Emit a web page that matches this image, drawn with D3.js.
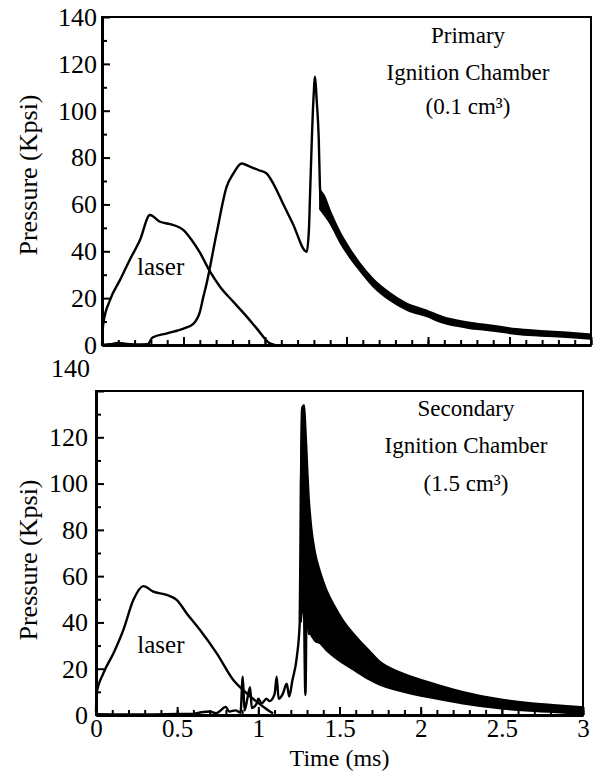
<!DOCTYPE html>
<html>
<head>
<meta charset="utf-8">
<script src="https://cdn.jsdelivr.net/npm/d3@7"></script>
<style>
body { margin: 0; background: #fff; }
text { font-family: "Liberation Serif", "Times New Roman", serif; fill: #000; }
</style>
</head>
<body>
<svg width="597" height="772"></svg>
<script>
// axis ticks
var yMajor = [0, 20, 40, 60, 80, 100, 120, 140]
var yMinor = [10, 30, 50, 70, 90, 110, 130]
var xMajor = [0, 0.5, 1, 1.5, 2, 2.5, 3]
var xMinor = d3.range(0, 31).map(function (i) { return i / 10 }) // every 0.1 ms

// primary chamber, [time ms, pressure kpsi]
var primaryLaser = [[0, 0], [0.008, 9.2], [0.049, 19.2], [0.11, 27.7], [0.17, 36.3], [0.233, 44.8],
  [0.294, 55.5], [0.356, 52.6], [0.417, 51.6], [0.5, 49], [0.55, 44.8], [0.6, 39.5], [0.663, 31.3],
  [0.724, 24.9], [0.805, 18.5], [0.888, 12.1], [0.949, 7.1], [1.03, 0.7], [1.06, 0]]
var primaryIgnition = [[0, 0], [0.05, 0.3], [0.1, 0.9], [0.15, 0.4], [0.2, 0.2], [0.28, 0.3], [0.31, 3.2],
  [0.4, 5], [0.5, 7], [0.56, 9], [0.6, 14], [0.62, 20], [0.642, 26.3], [0.703, 47.7], [0.765, 67.6],
  [0.806, 73.2], [0.857, 77.5], [0.908, 76.1], [0.959, 74.7], [1.01, 73.2], [1.05, 69], [1.11, 60.4],
  [1.17, 51.9], [1.256, 39.8], [1.27, 50], [1.276, 63.3], [1.297, 104.6], [1.307, 114.5], [1.317, 104.6],
  [1.33, 87.5], [1.337, 67.6], [1.342, 62]]
// noisy decay drawn as its envelope: [time, high, low]
var primaryBand = [[1.338, 66, 58], [1.36, 64, 56], [1.4, 57, 52], [1.46, 48, 44], [1.52, 41, 37.5],
  [1.58, 35, 32], [1.665, 28, 25], [1.77, 22, 19], [1.87, 17.7, 15], [1.99, 14.8, 12.3], [2.09, 12, 9.6],
  [2.24, 9.7, 7.4], [2.4, 8.2, 6.1], [2.54, 6.8, 4.7], [2.69, 6, 4], [2.85, 5.3, 3.4], [3, 4.5, 2.7]]

// secondary chamber
var secondaryLaser = [[0, 1.4], [0.004, 9.4], [0.045, 18], [0.107, 26.6], [0.168, 36.7], [0.23, 49.7],
  [0.292, 55.7], [0.353, 53.3], [0.435, 51.9], [0.497, 49.7], [0.559, 43.9], [0.641, 36.7], [0.744, 26.6],
  [0.846, 15.1], [0.928, 9.4], [1.03, 3.6], [1.09, 0.7]]
var secondaryIgnition = [[0, 0.3], [0.3, 0.2], [0.5, 0.4], [0.6, 0.5], [0.65, 1.2], [0.7, 1.5], [0.74, 0.8],
  [0.8, 3.5], [0.82, 1.5], [0.86, 2], [0.89, 1], [0.904, 16.5], [0.915, 2], [0.935, 8], [0.949, 12],
  [0.96, 3], [0.99, 5], [1.0, 7], [1.02, 5], [1.05, 7], [1.07, 6], [1.1, 9], [1.113, 16.5], [1.125, 7],
  [1.15, 9], [1.175, 13.5], [1.19, 8], [1.21, 15], [1.237, 25], [1.255, 40], [1.262, 95], [1.27, 133],
  [1.28, 60], [1.29, 8.6], [1.296, 45]]
var secondaryBand = [[1.262, 100, 40], [1.272, 133, 45], [1.282, 134, 45], [1.29, 125, 40], [1.3, 110, 42],
  [1.31, 95, 35], [1.32, 86, 35], [1.33, 79, 34], [1.35, 70, 32], [1.38, 62, 31], [1.42, 54, 28],
  [1.47, 47, 25], [1.52, 41, 22.5], [1.6, 34, 19], [1.68, 28, 15.5], [1.75, 23, 13], [1.87, 18.5, 10.5],
  [2.06, 14, 7.5], [2.26, 10, 5], [2.47, 7, 3], [2.67, 5.2, 1.8], [2.88, 4, 1], [3, 3.4, 0.6]]

var svg = d3.select("svg")

function drawPanel(p) {
  var x = d3.scaleLinear().domain([0, 3]).range([p.left, p.right])
  var y = d3.scaleLinear().domain([0, 140]).range([p.bottom, p.top])
  var g = svg.append("g")

  var line = d3.line().curve(d3.curveMonotoneX)
    .x(function (d) { return x(d[0]) }).y(function (d) { return y(d[1]) })
  var area = d3.area().curve(d3.curveMonotoneX).x(function (d) { return x(d[0]) })
    .y0(function (d) { return y(d[2]) }).y1(function (d) { return y(d[1]) })

  g.append("path").attr("d", line(p.laser)).attr("fill", "none").attr("stroke", "#000").attr("stroke-width", 2.4)
  g.append("path").attr("d", line(p.ignition)).attr("fill", "none").attr("stroke", "#000").attr("stroke-width", 2.4)
  g.append("path").attr("d", area(p.band)).attr("fill", "#000").attr("stroke", "#000").attr("stroke-width", 2)

  // frame
  g.append("rect").attr("x", p.left).attr("y", p.top)
    .attr("width", p.right - p.left).attr("height", p.bottom - p.top)
    .attr("fill", "none").attr("stroke", "#000").attr("stroke-width", 2)

  // y axis, ticks pointing inward
  var ya = g.append("g").attr("transform", "translate(" + p.left + ",0)")
    .call(d3.axisLeft(y).tickValues(yMajor).tickSizeInner(-8).tickSizeOuter(0).tickPadding(p.yPad))
  ya.select(".domain").attr("stroke-width", 3)
  ya.selectAll(".tick line").attr("stroke-width", 2)
  ya.selectAll("text").style("font-size", "26px").style("font-family", "Liberation Serif")
  if (p.shift140) ya.selectAll(".tick").filter(function (d) { return d === 140 })
    .select("text").attr("x", -6).attr("dy", "-0.55em")
  g.append("g").attr("transform", "translate(" + p.left + ",0)")
    .call(d3.axisLeft(y).tickValues(yMinor).tickSizeInner(-5).tickSizeOuter(0).tickFormat(""))
    .call(function (s) { s.select(".domain").remove(); s.selectAll("line").attr("stroke-width", 2) })

  // x axis, ticks pointing up
  var xa = g.append("g").attr("transform", "translate(0," + p.bottom + ")")
    .call(d3.axisBottom(x).tickValues(xMajor).tickSizeInner(-8).tickSizeOuter(0).tickPadding(4)
      .tickFormat(p.xLabels ? d3.format("~g") : ""))
  xa.select(".domain").attr("stroke-width", 3)
  xa.selectAll(".tick line").attr("stroke-width", 2)
  xa.selectAll("text").style("font-size", "25px").style("font-family", "Liberation Serif")
  g.append("g").attr("transform", "translate(0," + p.bottom + ")")
    .call(d3.axisBottom(x).tickValues(xMinor).tickSizeInner(-5).tickSizeOuter(0).tickFormat(""))
    .call(function (s) { s.select(".domain").remove(); s.selectAll("line").attr("stroke-width", 2) })

  // y label
  g.append("text").attr("transform", "translate(37," + p.labelY + ") rotate(-90)")
    .attr("text-anchor", "middle").style("font-size", "26px").text("Pressure (Kpsi)")

  // chamber title
  p.title.forEach(function (t, i) {
    g.append("text").attr("x", p.titleX).attr("y", p.titleY[i]).attr("text-anchor", "middle")
      .style("font-size", "23px").text(t)
  })
  g.append("text").attr("x", x(p.laserX)).attr("y", y(p.laserY)).attr("text-anchor", "middle")
    .style("font-size", "25px").text("laser")
  return x
}

drawPanel({
  left: 102, right: 591, top: 17, bottom: 345, yPad: 5, xLabels: false, labelY: 175,
  laser: primaryLaser, ignition: primaryIgnition, band: primaryBand,
  title: ["Primary", "Ignition Chamber", "(0.1 cm³)"], titleX: 468, titleY: [43, 80, 114],
  laserX: 0.36, laserY: 30
})
var xb = drawPanel({
  left: 96, right: 583, top: 391, bottom: 715, yPad: 8, xLabels: true, shift140: true, labelY: 560,
  laser: secondaryLaser, ignition: secondaryIgnition, band: secondaryBand,
  title: ["Secondary", "Ignition Chamber", "(1.5 cm³)"], titleX: 466, titleY: [416, 453, 491],
  laserX: 0.4, laserY: 27
})

svg.append("text").attr("x", xb(1.5)).attr("y", 766).attr("text-anchor", "middle")
  .style("font-size", "24px").text("Time (ms)")
</script>
</body>
</html>
